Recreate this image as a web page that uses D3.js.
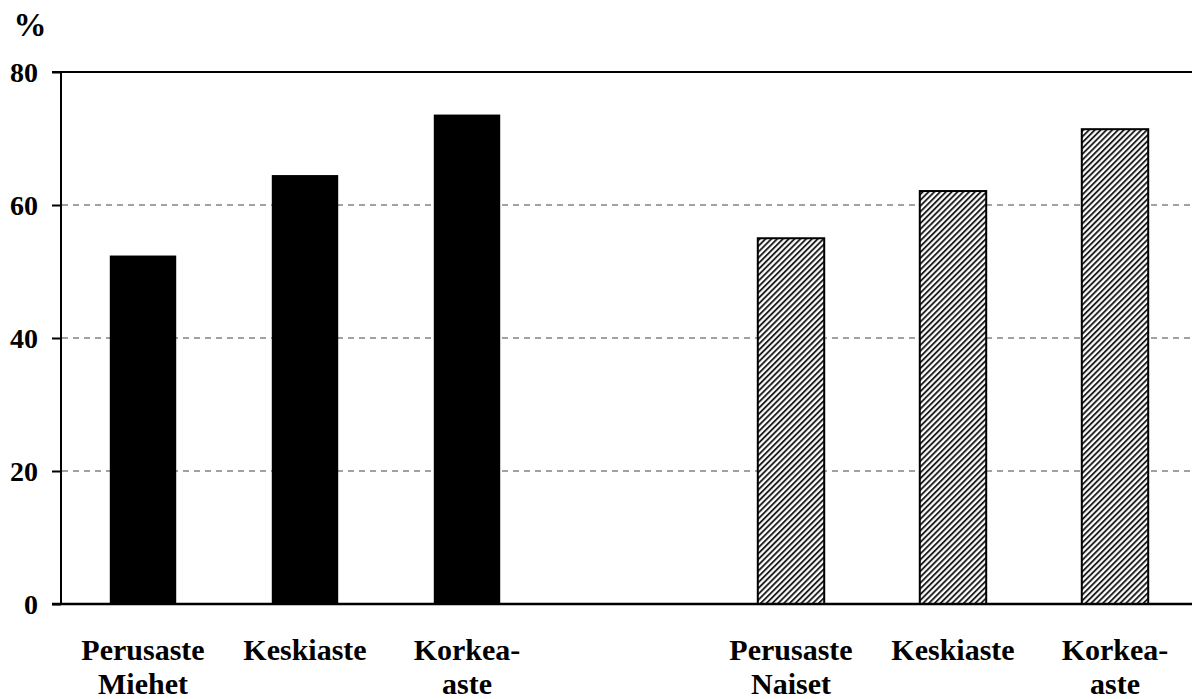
<!DOCTYPE html>
<html><head><meta charset="utf-8">
<script src="https://cdn.jsdelivr.net/npm/d3@7/dist/d3.min.js"></script>
<style>body{margin:0;background:#fff}svg{display:block}text{font-family:"Liberation Serif","Times New Roman",serif;font-weight:bold;fill:#000}</style>
</head><body><svg id="c" width="1192" height="699"></svg>
<script>
const categories = ["m1","m2","m3","gap","n1","n2","n3"];
const labelLine1 = ["Perusaste","Keskiaste","Korkea-","","Perusaste","Keskiaste","Korkea-"];
const labelLine2 = ["Miehet","","aste","","Naiset","","aste"];
const miehet = [52.4, 64.5, 73.6];
const naiset = [55.0, 62.1, 71.4];
const yTicks = [0, 20, 40, 60, 80];

const svg = d3.select("#c");
const x0 = 62, x1 = 1196, yTop = 72, yBot = 604;
const y = d3.scaleLinear().domain([0, 80]).range([yBot, yTop]);
const x = d3.scaleBand().domain(categories).range([x0, x1]).paddingInner(0.59).paddingOuter(0.295);

const defs = svg.append("defs");
const pat = defs.append("pattern").attr("id","hatch").attr("patternUnits","userSpaceOnUse")
  .attr("width",4.1).attr("height",10).attr("patternTransform","rotate(45)");
pat.append("rect").attr("width",4.1).attr("height",10).attr("fill","#fff");
pat.append("line").attr("x1",1).attr("x2",1).attr("y1",0).attr("y2",10).attr("stroke","#111").attr("stroke-width",1.8);

// grid
svg.append("g").selectAll("line").data([20,40,60]).join("line")
  .attr("x1", x0).attr("x2", 1192).attr("y1", d=>y(d)).attr("y2", d=>y(d))
  .attr("stroke","#444").attr("stroke-width",1).attr("stroke-dasharray","6,5");

const data = [
  ...miehet.map((v,i)=>({c:categories[i], v, f:"m"})),
  ...naiset.map((v,i)=>({c:categories[i+4], v, f:"n"}))
];
svg.append("g").selectAll("rect").data(data).join("rect")
  .attr("x", d=>x(d.c)).attr("width", x.bandwidth())
  .attr("y", d=>y(d.v)).attr("height", d=>y(0)-y(d.v))
  .attr("fill", d=>d.f==="m" ? "#000" : "url(#hatch)")
  .attr("stroke", d=>d.f==="m" ? "none" : "#000")
  .attr("stroke-width", 2);

// axes
const ya = svg.append("g").attr("transform",`translate(${x0-1},0)`)
  .call(d3.axisLeft(y).tickValues(yTicks).tickSize(9).tickPadding(14).tickFormat(d3.format("d")));
ya.select(".domain").remove();
ya.selectAll(".tick line").attr("stroke","#000").attr("stroke-width",2);
ya.selectAll(".tick text").attr("font-size",null).attr("font-family",null)
  .style("font-size","28px").style("font-family",'"Liberation Serif",serif').style("font-weight","bold").attr("dy","0.35em");
svg.append("line").attr("x1",x0-1).attr("x2",x0-1).attr("y1",yTop).attr("y2",yBot).attr("stroke","#000").attr("stroke-width",2);
svg.append("line").attr("x1",x0-10).attr("x2",1192).attr("y1",yTop).attr("y2",yTop).attr("stroke","#000").attr("stroke-width",2);
svg.append("line").attr("x1",x0-10).attr("x2",1192).attr("y1",yBot).attr("y2",yBot).attr("stroke","#000").attr("stroke-width",2.5);

svg.append("text").attr("x",30).attr("y",36).attr("text-anchor","middle").style("font-size","33px").text("%");

const lab = svg.append("g").selectAll("g").data(categories).join("g")
  .attr("transform", d=>`translate(${x(d)+x.bandwidth()/2},0)`);
lab.append("text").attr("y",660).attr("text-anchor","middle").style("font-size","30px").text((d,i)=>labelLine1[i]);
lab.append("text").attr("y",694).attr("text-anchor","middle").style("font-size","30px").text((d,i)=>labelLine2[i]);
</script></body></html>
